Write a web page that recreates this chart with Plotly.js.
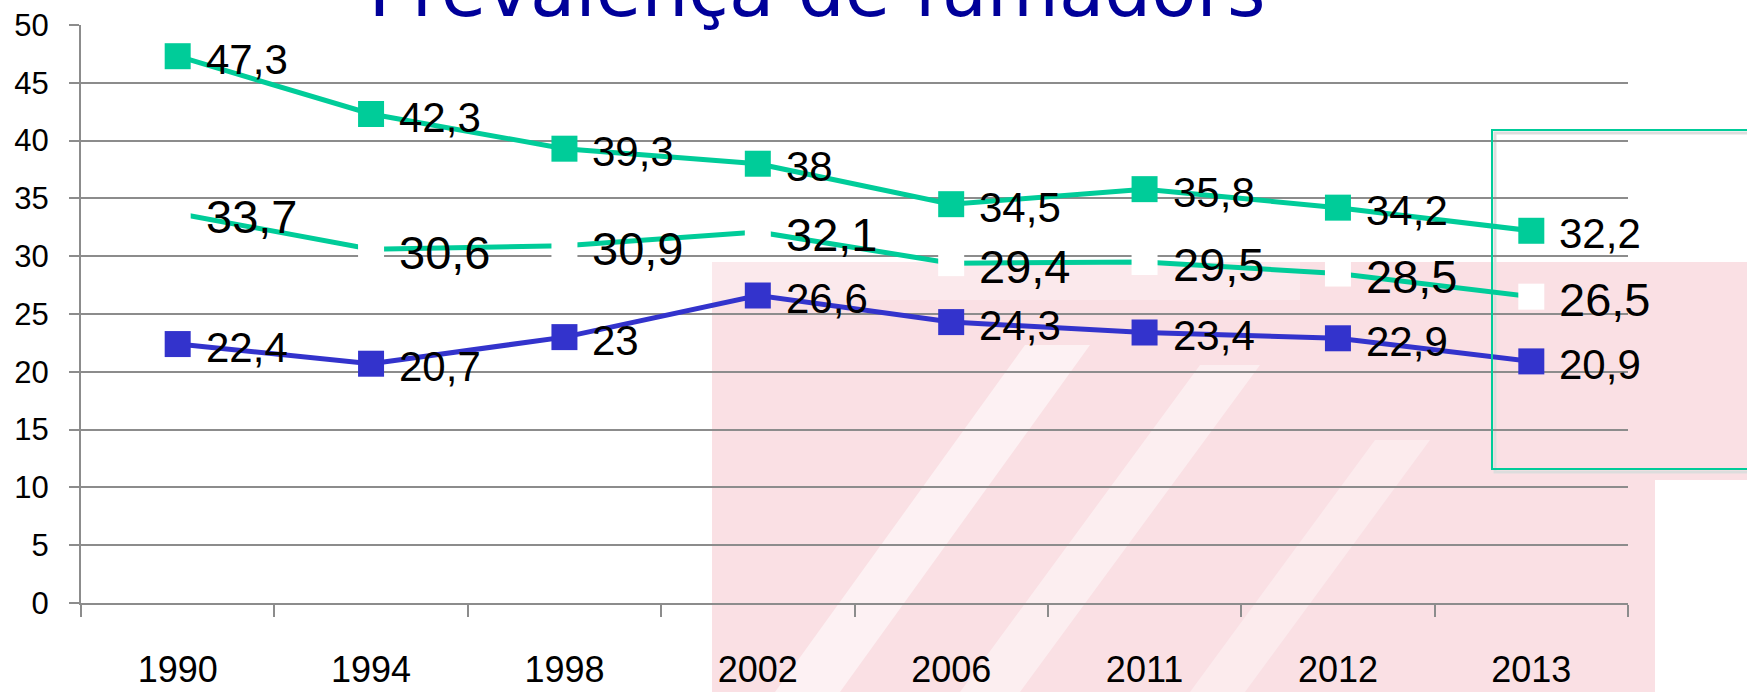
<!DOCTYPE html>
<html>
<head>
<meta charset="utf-8">
<script src="https://cdn.plot.ly/plotly-3.0.1.min.js"></script>
<style>
  html, body { margin: 0; padding: 0; background: #ffffff; }
  #chart { width: 1747px; height: 692px; }
</style>
</head>
<body>
<div id="chart"></div>
<script>
// ---- data ----
const years = ['1990', '1994', '1998', '2002', '2006', '2011', '2012', '2013'];
const seriesTop = [47.3, 42.3, 39.3, 38, 34.5, 35.8, 34.2, 32.2];
const seriesMid = [33.7, 30.6, 30.9, 32.1, 29.4, 29.5, 28.5, 26.5];
const seriesLow = [22.4, 20.7, 23, 26.6, 24.3, 23.4, 22.9, 20.9];
const titleText = 'Prevalença de fumadors';

// ---- styling ----
const GREEN = '#00CC99';
const BLUE = '#3333CC';
const GRID = '#8c8c8c';
const FONT = 'Liberation Sans, Arial, sans-serif';

const fmt = v => String(v).replace('.', ',');

function lineTrace(vals, markerColor, lineColor) {
  return {
    type: 'scatter',
    mode: 'lines+markers',
    x: years,
    y: vals,
    line: { color: lineColor, width: 5 },
    marker: { symbol: 'square', size: 26, color: markerColor, line: { width: 0 } },
    hoverinfo: 'x+y',
    cliponaxis: false,
    showlegend: false
  };
}

const data = [
  lineTrace(seriesLow, BLUE, BLUE),
  lineTrace(seriesMid, '#ffffff', GREEN),
  lineTrace(seriesTop, GREEN, GREEN)
];

// value labels, placed through the axes' own scales (category index on x)
function labels(vals, size) {
  return vals.map((v, i) => ({
    x: i, y: v, xref: 'x', yref: 'y',
    text: fmt(v), showarrow: false,
    xanchor: 'left', yanchor: 'middle',
    xshift: 26, yshift: -3,
    font: { family: FONT, size: size, color: '#000000' }
  }));
}
const annotations = [].concat(
  labels(seriesLow, 42),
  labels(seriesMid, 47),
  labels(seriesTop, 42)
);

// plot area in pixels: x 81..1628, y 25..603
const L = 81, R = 1628, T = 25, B = 603;
const px = x => (x - L) / (R - L);
const py = y => (B - y) / (B - T);

function poly(pts, color, opacity) {
  let d = pts.map((p, i) => (i ? 'L' : 'M') + px(p[0]) + ',' + py(p[1])).join(' ') + ' Z';
  return { type: 'path', xref: 'paper', yref: 'paper', path: d, fillcolor: color,
           opacity: opacity, line: { width: 0 }, layer: 'below' };
}

const shapes = [
  // faint watermark (pink logo behind the chart)
  poly([[712, 262], [1747, 262], [1747, 480], [1655, 480], [1655, 692], [712, 692]], '#f7cfd5', 0.65),
  poly([[775, 692], [840, 692], [1090, 345], [1025, 345]], '#ffffff', 0.55),
  poly([[960, 692], [1020, 692], [1260, 365], [1200, 365]], '#ffffff', 0.45),
  poly([[1190, 692], [1245, 692], [1430, 440], [1375, 440]], '#ffffff', 0.35),
  poly([[712, 262], [1300, 262], [1300, 300], [712, 300]], '#ffffff', 0.3),
  // empty legend frame
  { type: 'rect', xref: 'paper', yref: 'paper', x0: px(1495), x1: px(1760), y0: py(472), y1: py(133),
    line: { color: '#dddddd', width: 3 }, fillcolor: 'rgba(0,0,0,0)', layer: 'below' },
  { type: 'rect', xref: 'paper', yref: 'paper', x0: px(1492), x1: px(1760), y0: py(469), y1: py(130),
    line: { color: GREEN, width: 2 }, fillcolor: 'rgba(0,0,0,0)', layer: 'above' }
];

const layout = {
  width: 1747,
  height: 692,
  margin: { l: L, r: 1747 - R, t: T, b: 692 - B, pad: 0 },
  paper_bgcolor: '#ffffff',
  plot_bgcolor: 'rgba(0,0,0,0)',
  font: { family: FONT, color: '#000000' },
  title: {
    text: titleText,
    font: { family: 'DejaVu Sans, Verdana, sans-serif', size: 74, color: '#000099' },
    x: 817 / 1747,
    xanchor: 'center',
    xref: 'container',
    y: 1 - 16 / 692,
    yanchor: 'bottom',
    yref: 'container'
  },
  xaxis: {
    type: 'category',
    categoryorder: 'array',
    categoryarray: years,
    range: [-0.5, years.length - 0.5],
    tickson: 'boundaries',
    ticks: 'outside',
    ticklen: 12,
    tickwidth: 2,
    tickcolor: GRID,
    showline: true,
    linecolor: GRID,
    linewidth: 2,
    showgrid: false,
    zeroline: false,
    tickangle: 0,
    tickfont: { family: FONT, size: 36, color: '#000000' },
    ticklabelstandoff: 34,
    fixedrange: true
  },
  yaxis: {
    range: [0, 50],
    dtick: 5,
    tick0: 0,
    ticks: 'outside',
    ticklen: 10,
    tickwidth: 2,
    tickcolor: GRID,
    showline: true,
    linecolor: GRID,
    linewidth: 2,
    showgrid: true,
    gridcolor: GRID,
    gridwidth: 2,
    zeroline: false,
    tickfont: { family: FONT, size: 31, color: '#000000' },
    ticklabelstandoff: 14,
    fixedrange: true
  },
  annotations: annotations,
  shapes: shapes,
  showlegend: false
};

Plotly.newPlot('chart', data, layout, { displayModeBar: false, staticPlot: true });
</script>
</body>
</html>
